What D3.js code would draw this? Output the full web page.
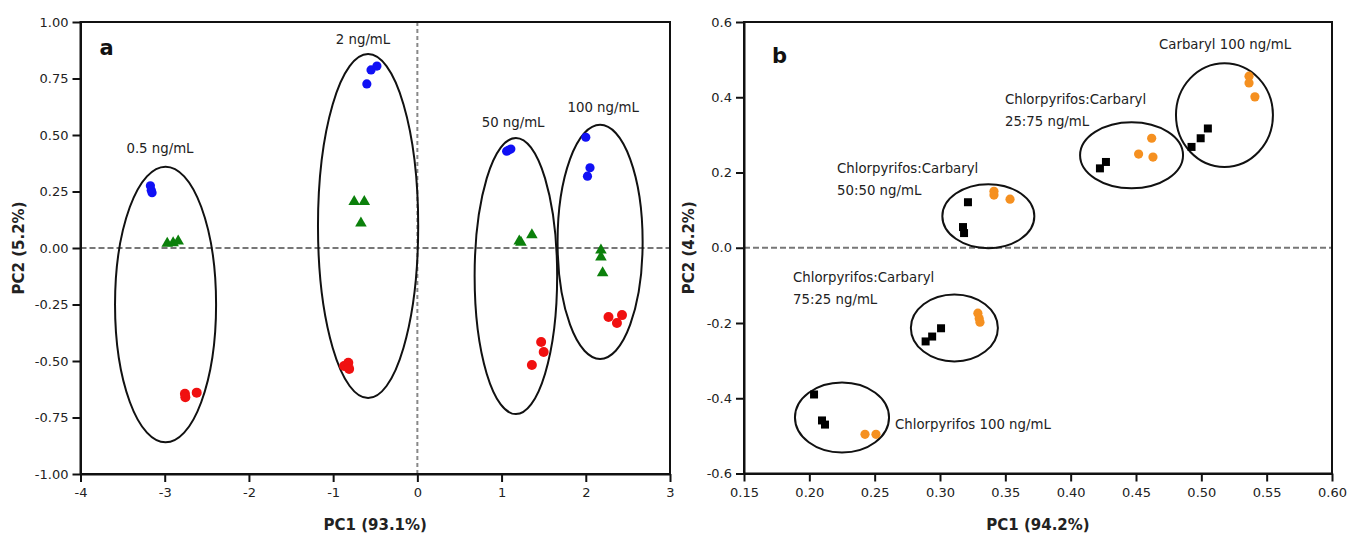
<!DOCTYPE html>
<html>
<head>
<meta charset="utf-8">
<script src="https://cdn.jsdelivr.net/npm/d3@7"></script>
<style>
  html, body { margin: 0; padding: 0; background: #ffffff; }
  svg { display: block; font-family: "DejaVu Sans", Verdana, sans-serif; }
</style>
</head>
<body>
<svg id="chart" width="1347" height="535"></svg>
<script>
// ---------- Panel a data ----------
const aTicksX = [-4, -3, -2, -1, 0, 1, 2, 3];
const aTicksY = [-1, -0.75, -0.5, -0.25, 0, 0.25, 0.5, 0.75, 1];
const aBlue = [
  [-3.17, 0.275], [-3.16, 0.255], [-3.15, 0.245],
  [-0.55, 0.788], [-0.48, 0.805], [-0.60, 0.726],
  [1.06, 0.428], [1.11, 0.438], [1.08, 0.432],
  [2.00, 0.490], [2.05, 0.355], [2.02, 0.318]
];
const aGreen = [
  [-2.97, 0.020], [-2.90, 0.022], [-2.84, 0.030],
  [-0.75, 0.205], [-0.63, 0.205], [-0.67, 0.110],
  [1.21, 0.030], [1.23, 0.025], [1.36, 0.058],
  [2.18, -0.010], [2.18, -0.040], [2.20, -0.110]
];
const aRed = [
  [-2.76, -0.645], [-2.62, -0.640], [-2.755, -0.660],
  [-0.87, -0.522], [-0.82, -0.508], [-0.81, -0.535],
  [1.47, -0.416], [1.50, -0.460], [1.36, -0.518],
  [2.27, -0.305], [2.37, -0.332], [2.43, -0.297]
];
const aEllipses = [
  { cx: -2.99, cy: -0.250, rx: 0.600, ry: 0.610 },
  { cx: -0.585, cy: 0.097, rx: 0.595, ry: 0.761 },
  { cx: 1.17, cy: -0.124, rx: 0.490, ry: 0.611 },
  { cx: 2.17, cy: 0.027, rx: 0.505, ry: 0.518 }
];
const aLabels = [
  { text: "0.5 ng/mL", x: -3.056, y: 0.422 },
  { text: "2 ng/mL", x: -0.645, y: 0.902 },
  { text: "50 ng/mL", x: 1.137, y: 0.535 },
  { text: "100 ng/mL", x: 2.206, y: 0.600 }
];

// ---------- Panel b data ----------
const bTicksX = [0.15, 0.20, 0.25, 0.30, 0.35, 0.40, 0.45, 0.50, 0.55, 0.60];
const bTicksY = [-0.6, -0.4, -0.2, 0.0, 0.2, 0.4, 0.6];
const bBlack = [
  [0.2036, -0.390], [0.2097, -0.459], [0.2120, -0.470],
  [0.2890, -0.249], [0.2940, -0.236], [0.3008, -0.214],
  [0.3214, 0.121], [0.3176, 0.055], [0.3184, 0.039],
  [0.4224, 0.211], [0.4270, 0.228],
  [0.4925, 0.268], [0.4995, 0.291], [0.5050, 0.317]
];
const bOrange = [
  [0.2426, -0.496], [0.2510, -0.496],
  [0.3290, -0.174], [0.3300, -0.188], [0.3306, -0.198],
  [0.3413, 0.150], [0.3413, 0.140], [0.3536, 0.129],
  [0.4620, 0.291], [0.4520, 0.249], [0.4630, 0.241],
  [0.5365, 0.456], [0.5365, 0.438], [0.5410, 0.401]
];
const bEllipses = [
  { cx: 0.2250, cy: -0.451, rx: 0.0360, ry: 0.093 },
  { cx: 0.3110, cy: -0.213, rx: 0.0333, ry: 0.089 },
  { cx: 0.3370, cy: 0.084, rx: 0.0352, ry: 0.085 },
  { cx: 0.4466, cy: 0.246, rx: 0.0394, ry: 0.0878 },
  { cx: 0.5177, cy: 0.3526, rx: 0.0371, ry: 0.138 }
];
const bLabels = [
  { lines: ["Carbaryl 100 ng/mL"], x: 0.4676, y: 0.528 },
  { lines: ["Chlorpyrifos:Carbaryl", "25:75 ng/mL"], x: 0.3497, y: 0.382 },
  { lines: ["Chlorpyrifos:Carbaryl", "50:50 ng/mL"], x: 0.2212, y: 0.200 },
  { lines: ["Chlorpyrifos:Carbaryl", "75:25 ng/mL"], x: 0.1875, y: -0.092 },
  { lines: ["Chlorpyrifos 100 ng/mL"], x: 0.2656, y: -0.483 }
];

// ---------- Drawing ----------
const svg = d3.select("#chart");
const TEXT = "#222";

function panel(opts) {
  const x = d3.scaleLinear().domain(opts.xDomain).range(opts.xRange);
  const y = d3.scaleLinear().domain(opts.yDomain).range(opts.yRange);
  const g = svg.append("g");
  const [x0, x1] = opts.xRange, [yb, yt] = opts.yRange;

  // dashed zero lines
  g.append("line").attr("x1", x0).attr("x2", x1).attr("y1", y(0)).attr("y2", y(0))
    .attr("stroke", "#777").attr("stroke-width", 2).attr("stroke-dasharray", "6,3");
  if (opts.vZero) {
    g.append("line").attr("x1", x(0)).attr("x2", x(0)).attr("y1", yt).attr("y2", yb)
      .attr("stroke", "#888").attr("stroke-width", 2).attr("stroke-dasharray", "4,3");
  }

  // frame
  g.append("rect").attr("x", x0).attr("y", yt).attr("width", x1 - x0).attr("height", yb - yt)
    .attr("fill", "none").attr("stroke", "#111").attr("stroke-width", 2);

  // axes
  const xAxis = d3.axisBottom(x).tickValues(opts.xTicks).tickFormat(opts.xFmt)
    .tickSize(8).tickSizeOuter(0).tickPadding(6);
  const yAxis = d3.axisLeft(y).tickValues(opts.yTicks).tickFormat(opts.yFmt)
    .tickSize(8).tickSizeOuter(0).tickPadding(4);
  const gx = g.append("g").attr("transform", `translate(0,${yb})`).call(xAxis);
  const gy = g.append("g").attr("transform", `translate(${x0},0)`).call(yAxis);
  [gx, gy].forEach(ax => {
    ax.select(".domain").attr("stroke", "#111").attr("stroke-width", 2);
    ax.selectAll(".tick line").attr("stroke", "#111").attr("stroke-width", 2);
    ax.selectAll(".tick text").attr("fill", TEXT)
      .style("font-family", '"DejaVu Sans", Verdana, sans-serif').style("font-size", "13px");
  });

  // axis titles
  g.append("text").attr("x", (x0 + x1) / 2).attr("y", 530).attr("text-anchor", "middle")
    .attr("font-weight", "bold").attr("font-size", 15).attr("fill", TEXT).text(opts.xTitle);
  g.append("text").attr("transform", `translate(${opts.yTitleX},${(yb + yt) / 2}) rotate(-90)`)
    .attr("text-anchor", "middle").attr("dy", "0.35em")
    .attr("font-weight", "bold").attr("font-size", 15).attr("fill", TEXT).text(opts.yTitle);

  // panel letter
  g.append("text").attr("x", x0 + opts.letterDx).attr("y", yt + opts.letterDy)
    .attr("font-weight", "bold").attr("font-size", 21).attr("fill", "#111").text(opts.letter);

  // ellipses
  g.selectAll("ellipse.grp").data(opts.ellipses).join("ellipse")
    .attr("cx", d => x(d.cx)).attr("cy", d => y(d.cy))
    .attr("rx", d => x(d.cx + d.rx) - x(d.cx)).attr("ry", d => y(d.cy) - y(d.cy + d.ry))
    .attr("fill", "none").attr("stroke", "#111").attr("stroke-width", 2);

  return { g, x, y };
}

// Panel a
const A = panel({
  xDomain: [-4, 3], xRange: [80.5, 670], yDomain: [-1, 1], yRange: [474, 22],
  xTicks: aTicksX, yTicks: aTicksY,
  xFmt: d => String(d), yFmt: d => d.toFixed(2),
  xTitle: "PC1 (93.1%)", yTitle: "PC2 (5.2%)", yTitleX: 19,
  letter: "a", letterDx: 19, letterDy: 33, vZero: true, ellipses: aEllipses
});
A.g.selectAll("circle.blue").data(aBlue).join("circle")
  .attr("cx", d => A.x(d[0])).attr("cy", d => A.y(d[1])).attr("r", 4.6).attr("fill", "#1010f5");
A.g.selectAll("path.green").data(aGreen).join("path")
  .attr("transform", d => `translate(${A.x(d[0])},${A.y(d[1])})`)
  .attr("d", d3.symbol().type(d3.symbolTriangle).size(58)).attr("fill", "#0b800b");
A.g.selectAll("circle.red").data(aRed).join("circle")
  .attr("cx", d => A.x(d[0])).attr("cy", d => A.y(d[1])).attr("r", 5).attr("fill", "#f01010");
A.g.selectAll("text.lbl").data(aLabels).join("text")
  .attr("x", d => A.x(d.x)).attr("y", d => A.y(d.y)).attr("text-anchor", "middle")
  .attr("font-size", 13.3).attr("fill", TEXT).text(d => d.text);

// Panel b
const B = panel({
  xDomain: [0.15, 0.6], xRange: [744, 1332], yDomain: [-0.6, 0.6], yRange: [473.5, 22],
  xTicks: bTicksX, yTicks: bTicksY,
  xFmt: d => d.toFixed(2), yFmt: d => d.toFixed(1),
  xTitle: "PC1 (94.2%)", yTitle: "PC2 (4.2%)", yTitleX: 689,
  letter: "b", letterDx: 28, letterDy: 41, vZero: false, ellipses: bEllipses
});
B.g.selectAll("path.sq").data(bBlack).join("path")
  .attr("transform", d => `translate(${B.x(d[0])},${B.y(d[1])})`)
  .attr("d", d3.symbol().type(d3.symbolSquare).size(64)).attr("fill", "#000");
B.g.selectAll("circle.or").data(bOrange).join("circle")
  .attr("cx", d => B.x(d[0])).attr("cy", d => B.y(d[1])).attr("r", 4.6).attr("fill", "#f59020");
const bl = B.g.selectAll("text.lbl").data(bLabels).join("text")
  .attr("x", d => B.x(d.x)).attr("y", d => B.y(d.y))
  .attr("font-size", 13.3).attr("fill", TEXT);
bl.selectAll("tspan").data(d => d.lines.map(t => ({ t, x: B.x(d.x) }))).join("tspan")
  .attr("x", d => d.x).attr("dy", (d, i) => i === 0 ? 0 : 22).text(d => d.t);
</script>
</body>
</html>
